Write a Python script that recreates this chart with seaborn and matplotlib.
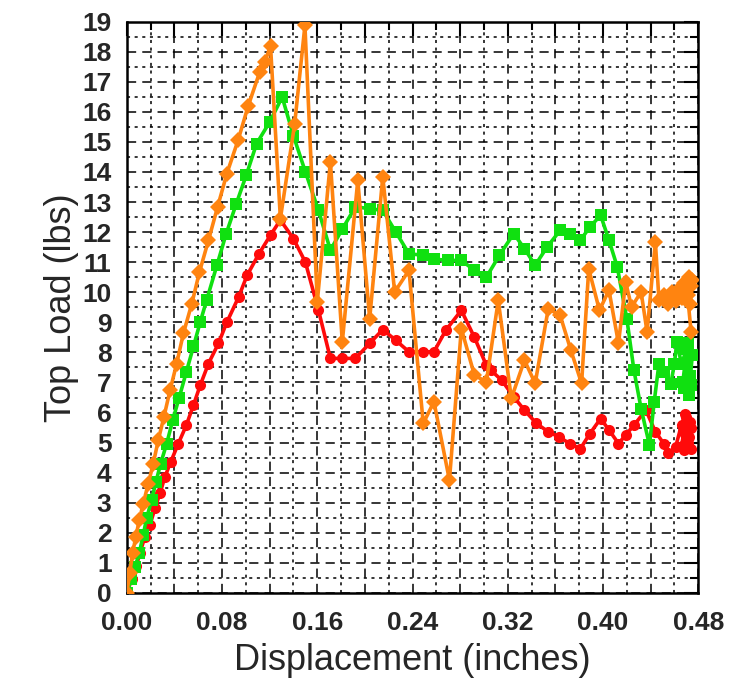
import numpy as np
import pandas as pd
import seaborn as sns
import matplotlib.pyplot as plt
from matplotlib.ticker import MultipleLocator, FuncFormatter

# Curva roja (circulos)
rojo_x = [0.0, 0.004, 0.008, 0.011, 0.0152, 0.0194, 0.0236, 0.0278, 0.032, 0.0369, 0.0433,
          0.050, 0.056, 0.0616, 0.0686, 0.077, 0.084, 0.094, 0.101, 0.111, 0.1207, 0.129,
          0.140, 0.150, 0.161, 0.171, 0.181, 0.192, 0.204, 0.215, 0.226, 0.237, 0.249,
          0.258, 0.268, 0.281, 0.292, 0.302, 0.306, 0.315, 0.325, 0.334, 0.344, 0.354,
          0.363, 0.372, 0.381, 0.389, 0.398, 0.405, 0.413, 0.419, 0.426, 0.436, 0.444,
          0.451, 0.455, 0.461, 0.466, 0.469, 0.472, 0.468, 0.474, 0.470, 0.466, 0.473,
          0.471, 0.467, 0.474, 0.469]
rojo_y = [0.0, 0.45, 0.9, 1.33, 1.87, 2.26, 2.81, 3.31, 3.86, 4.36, 4.97,
          5.58, 6.25, 6.9, 7.63, 8.3, 9.0, 9.85, 10.56, 11.28, 11.9, 12.4,
          11.78, 11.0, 9.4, 7.8, 7.8, 7.8, 8.3, 8.76, 8.4, 8.02, 8.02,
          8.02, 8.74, 9.4, 8.5, 7.57, 7.4, 7.07, 6.52, 6.08, 5.64, 5.36,
          5.19, 4.97, 4.8, 5.3, 5.8, 5.42, 4.97, 5.25, 5.58, 6.08, 5.36,
          4.97, 4.64, 4.86, 5.6, 5.95, 5.2, 4.75, 5.5, 5.85, 4.9, 5.7,
          5.0, 5.4, 4.8, 5.3]

# Curva verde (cuadrados)
verde_x = [0.0, 0.0035, 0.007, 0.0104, 0.0138, 0.0166, 0.0208, 0.0245, 0.0284, 0.0335,
           0.0386, 0.044, 0.050, 0.056, 0.0616, 0.067, 0.0757, 0.0835, 0.092, 0.1004,
           0.109, 0.120, 0.1305, 0.140, 0.150, 0.161, 0.171, 0.181, 0.192, 0.204, 0.215,
           0.226, 0.237, 0.249, 0.258, 0.270, 0.281, 0.292, 0.302, 0.313, 0.325, 0.334,
           0.343, 0.353, 0.364, 0.372, 0.381, 0.389, 0.398, 0.405, 0.412, 0.420, 0.426,
           0.432, 0.439, 0.443, 0.447, 0.451, 0.457, 0.460, 0.462, 0.466, 0.470, 0.473,
           0.468, 0.472, 0.475, 0.467, 0.471, 0.474]
verde_y = [0.0, 0.45, 0.88, 1.32, 1.93, 2.48, 3.09, 3.7, 4.3, 4.97,
           5.75, 6.5, 7.35, 8.2, 9.0, 9.73, 10.9, 11.95, 12.95, 13.9,
           14.94, 15.66, 16.49, 15.2, 14.0, 12.72, 11.4, 12.1, 12.84, 12.78, 12.72,
           12.0, 11.28, 11.23, 11.1, 11.06, 11.06, 10.73, 10.5, 11.23, 11.95, 11.45,
           10.9, 11.5, 12.06, 11.95, 11.73, 12.17, 12.56, 11.73, 10.84, 9.12, 7.4,
           6.13, 4.92, 6.36, 7.63, 7.35, 6.96, 7.63, 8.35, 7.6, 8.1, 7.2,
           6.8, 6.6, 7.9, 7.0, 8.3, 6.9]

# Curva naranja (rombos)
naranja_x = [0.0, 0.0024, 0.0048, 0.0076, 0.0104, 0.0138, 0.018, 0.0222, 0.0264, 0.0312,
             0.0363, 0.0419, 0.0475, 0.0546, 0.061, 0.0686, 0.0762, 0.084, 0.0934, 0.102,
             0.1116, 0.116, 0.1207, 0.129, 0.141, 0.1496, 0.160, 0.171, 0.181, 0.194,
             0.204, 0.215, 0.225, 0.237, 0.249, 0.258, 0.271, 0.281, 0.292, 0.302,
             0.312, 0.323, 0.334, 0.343, 0.354, 0.364, 0.373, 0.382, 0.388, 0.397,
             0.405, 0.413, 0.419, 0.424, 0.432, 0.437, 0.444, 0.447, 0.451, 0.455,
             0.458, 0.461, 0.464, 0.466, 0.468, 0.470, 0.472, 0.474, 0.473, 0.475,
             0.471, 0.474]
naranja_y = [0.0, 0.65, 1.32, 1.87, 2.42, 2.97, 3.64, 4.3, 5.08, 5.86,
             6.74, 7.63, 8.63, 9.62, 10.67, 11.73, 12.83, 13.94, 15.05, 16.2,
             17.32, 17.66, 18.2, 12.45, 15.6, 18.87, 9.68, 14.34, 8.35, 13.72,
             9.12, 13.84, 10.01, 10.73, 5.64, 6.36, 3.75, 8.79, 7.24, 7.02,
             9.73, 6.47, 7.74, 6.97, 9.45, 9.23, 8.07, 6.97, 10.78, 9.4,
             10.07, 8.3, 10.34, 9.51, 10.01, 8.68, 11.67, 9.73, 9.9, 9.6,
             10.0, 9.7, 10.1, 9.8, 10.3, 9.9, 10.5, 10.2, 9.6, 10.4,
             9.9, 8.68]

series = [('rojo', rojo_x, rojo_y), ('verde', verde_x, verde_y), ('naranja', naranja_x, naranja_y)]
df = pd.concat([pd.DataFrame({'x': x, 'y': y, 'serie': n, 'orden': range(len(x))})
                for n, x, y in series], ignore_index=True)

sns.set_style('white')
plt.rcParams['font.family'] = ['Liberation Sans', 'DejaVu Sans']

fig = plt.figure(figsize=(7.46, 6.96), dpi=100)
ax = fig.add_axes([0.170, 0.148, 0.766, 0.821])

colores = {'rojo': '#ff0a0a', 'verde': '#10e010', 'naranja': '#ff8410'}
marcas = {'rojo': 'o', 'verde': 's', 'naranja': 'D'}

sns.lineplot(data=df, x='x', y='y', hue='serie', style='serie', units='serie',
             estimator=None, sort=False, palette=colores, markers=marcas,
             dashes=False, lw=2.6, markersize=8, markeredgewidth=0,
             legend=False, ax=ax, zorder=3)

ax.set_xlim(0, 0.48)
ax.set_ylim(0, 19)

ax.xaxis.set_major_locator(MultipleLocator(0.04))
ax.xaxis.set_minor_locator(MultipleLocator(0.02))
ax.yaxis.set_major_locator(MultipleLocator(1))
ax.yaxis.set_minor_locator(MultipleLocator(0.5))
ax.xaxis.set_major_formatter(FuncFormatter(
    lambda v, p: f'{v:.2f}' if round(v / 0.04) % 2 == 0 else ''))

# rejilla: mayores discontinuas, menores punteadas
ax.grid(which='major', color='black', lw=1.1, ls=(0, (6, 4)), zorder=1)
ax.grid(which='minor', color='black', lw=1.1, ls=(0, (2, 3)), zorder=1)

ax.tick_params(which='both', direction='in', top=True, right=True, color='black')
ax.tick_params(which='major', length=10, width=1.5)
ax.tick_params(which='minor', length=6, width=1.5)
ax.tick_params(axis='both', labelsize=19, pad=11)
ax.tick_params(axis='x', pad=13)
for lab in ax.get_xticklabels() + ax.get_yticklabels():
    lab.set_fontweight('bold')

for s in ax.spines.values():
    s.set_visible(True)
    s.set_color('black')
    s.set_linewidth(1.8)

ax.set_xlabel('Displacement (inches)', fontsize=26, labelpad=6)
ax.set_ylabel('Top Load (lbs)', fontsize=26, labelpad=2)

fig.savefig('out.png', dpi=100)
